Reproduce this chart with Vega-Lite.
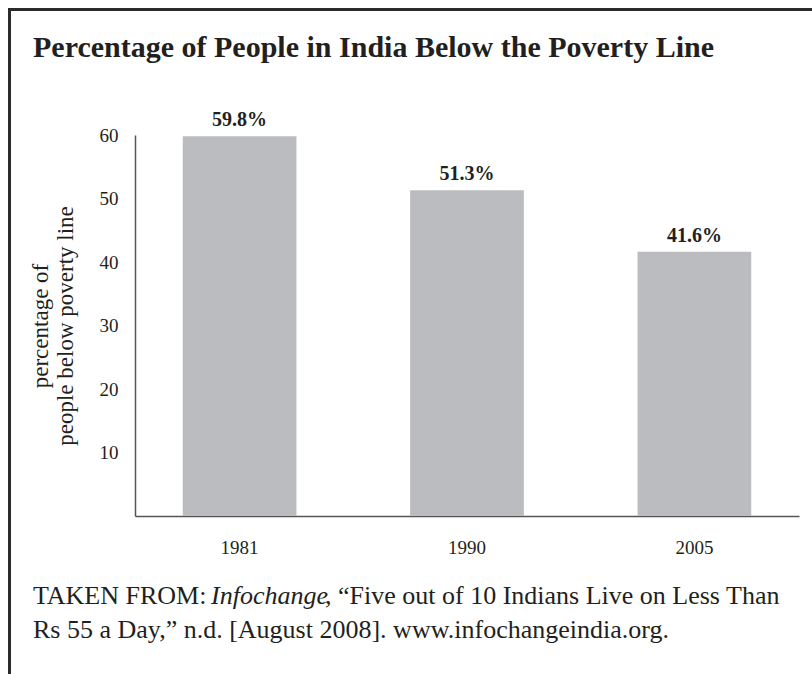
{
  "$schema": "https://vega.github.io/schema/vega-lite/v6.json",
  "width": 664,
  "height": 381,
  "autosize": {"type": "none"},
  "padding": {"left": 135, "top": 135, "right": 13, "bottom": 158},
  "background": "white",
  "config": {
    "view": {"stroke": null},
    "font": "Liberation Serif",
    "text": {"font": "Liberation Serif", "color": "#231f20"}
  },
  "title": {
    "text": "Percentage of People in India Below the Poverty Line",
    "anchor": "start",
    "frame": "group",
    "dx": -102,
    "offset": -55,
    "font": "Liberation Serif",
    "fontSize": 30,
    "fontWeight": "bold",
    "color": "#231f20"
  },
  "datasets": {
    "poverty": [
      {"year": "1981", "pct": 59.8},
      {"year": "1990", "pct": 51.3},
      {"year": "2005", "pct": 41.6}
    ],
    "frame": [{"frame": "box"}],
    "source": [
      {"part": "TAKEN FROM:", "line": 1, "style": "normal", "xpos": -102},
      {"part": "Infochange", "line": 1, "style": "italic", "xpos": 76},
      {"part": ", “Five out of 10 Indians Live on Less Than", "line": 1, "style": "normal", "xpos": 190},
      {"part": "Rs 55 a Day,” n.d. [August 2008]. www.infochangeindia.org.", "line": 2, "style": "normal", "xpos": -102}
    ]
  },
  "resolve": {"scale": {"x": "independent", "y": "independent"}, "axis": {"x": "independent", "y": "independent"}},
  "layer": [
    {
      "data": {"name": "frame"},
      "mark": {"type": "rect", "fill": null, "stroke": "#2b2b2b", "strokeWidth": 3},
      "encoding": {
        "x": {"value": -125.5},
        "y": {"value": -125.5},
        "x2": {"value": 700},
        "y2": {"value": 600}
      }
    },
    {
      "layer": [
        {
          "data": {"name": "poverty"},
          "mark": {"type": "bar", "color": "#bbbcbf"},
          "encoding": {
            "x": {
              "field": "year",
              "type": "nominal",
              "sort": null,
              "scale": {"paddingInner": 0.5, "paddingOuter": 0.21},
              "axis": {
                "title": null,
                "labelAngle": 0,
                "ticks": false,
                "domainColor": "#555555",
                "domainWidth": 1.5,
                "labelFont": "Liberation Serif",
                "labelFontSize": 19,
                "labelColor": "#231f20",
                "labelPadding": 22
              }
            },
            "y": {
              "field": "pct",
              "type": "quantitative",
              "scale": {"domain": [0, 60], "nice": false},
              "axis": {
                "values": [10, 20, 30, 40, 50, 60],
                "grid": false,
                "ticks": false,
                "domainColor": "#555555",
                "domainWidth": 1.5,
                "labelFont": "Liberation Serif",
                "labelFontSize": 19,
                "labelColor": "#231f20",
                "labelPadding": 17,
                "title": ["percentage of", "people below poverty line"],
                "titleFont": "Liberation Serif",
                "titleFontSize": 23,
                "titleFontWeight": "normal",
                "titleColor": "#231f20",
                "titleLineHeight": 25,
                "titlePadding": 22
              }
            }
          }
        },
        {
          "data": {"name": "poverty"},
          "transform": [{"calculate": "format(datum.pct, '.1f') + '%'", "as": "label"}],
          "mark": {"type": "text", "baseline": "alphabetic", "dy": -10, "fontSize": 20, "fontWeight": "bold"},
          "encoding": {
            "x": {"field": "year", "type": "nominal", "sort": null},
            "y": {"field": "pct", "type": "quantitative"},
            "text": {"field": "label"}
          }
        }
      ]
    },
    {
      "data": {"name": "source"},
      "transform": [{"filter": "datum.style === 'normal'"}],
      "mark": {"type": "text", "align": "left", "baseline": "alphabetic", "fontSize": 26},
      "encoding": {
        "x": {"field": "xpos", "type": "quantitative", "scale": null, "axis": null},
        "y": {"field": "line", "type": "quantitative", "scale": {"domain": [1, 2], "range": [469, 503]}, "axis": null},
        "text": {"field": "part"}
      }
    },
    {
      "data": {"name": "source"},
      "transform": [{"filter": "datum.style === 'italic'"}],
      "mark": {"type": "text", "align": "left", "baseline": "alphabetic", "fontSize": 26, "fontStyle": "italic"},
      "encoding": {
        "x": {"field": "xpos", "type": "quantitative", "scale": null, "axis": null},
        "y": {"field": "line", "type": "quantitative", "scale": {"domain": [1, 2], "range": [469, 503]}, "axis": null},
        "text": {"field": "part"}
      }
    }
  ]
}
